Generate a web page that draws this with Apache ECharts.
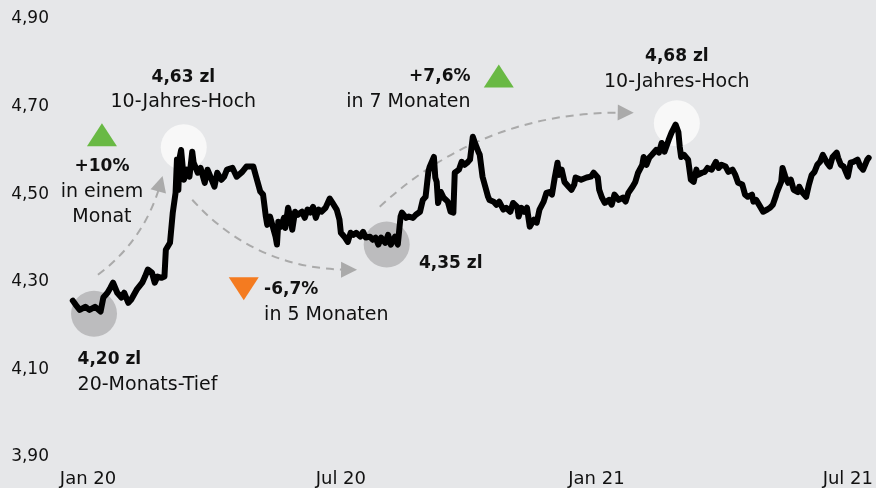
<!DOCTYPE html>
<html><head><meta charset="utf-8">
<script src="https://cdn.jsdelivr.net/npm/echarts@6/dist/echarts.min.js"></script>
<style>html,body{margin:0;padding:0;background:#e6e7e9}#chart{width:876px;height:488px}</style>
</head><body><div id="chart"></div>
<script>
// Day offsets relative to 2020-01-01 and EUR/PLN rate (zl)
const dayOffsets = [
 -11,-9,-6,-2,1,5,9,11,14,16,
 18,21,24,26,29,31,35,39,41,43,
 46,48,50,53,55,56,59,61,63,64,
 65,66,67,69,71,73,75,76,79,81,
 84,86,89,91,93,96,98,100,104,107,
 111,114,119,121,124,126,128,129,131,133,
 135,136,137,139,141,142,144,146,147,149,
 151,154,156,158,160,162,164,166,168,171,
 172,174,176,179,181,182,185,187,189,191,
 193,196,198,200,203,205,207,209,211,214,
 216,218,221,223,225,226,229,231,234,236,
 239,241,243,245,246,249,250,251,252,254,
 256,259,261,263,264,267,269,271,273,275,
 277,279,281,282,284,286,288,289,292,294,
 296,299,301,304,306,309,310,312,314,316,
 318,321,323,325,328,330,332,334,336,338,
 339,341,343,346,348,350,351,355,359,362,
 364,367,368,370,372,375,377,379,382,385,
 387,389,392,394,396,399,400,402,404,406,
 409,411,413,415,418,420,423,425,426,427,
 429,432,434,436,438,439,442,444,446,449,
 452,454,456,459,461,464,466,468,471,473,
 475,478,479,481,484,486,489,491,493,495,
 496,499,500,502,504,506,508,511,512,514,
 517,519,521,523,525,527,529,532,534,536,
 539,540,542,544,547,549,551,554,556,558,
 561,562
];
const rates = [
 4.257,4.248,4.236,4.243,4.236,4.243,4.232,4.264,4.275,4.286,
 4.298,4.275,4.264,4.275,4.252,4.259,4.282,4.298,4.312,4.328,
 4.321,4.298,4.312,4.309,4.312,4.373,4.389,4.458,4.503,4.579,
 4.510,4.585,4.601,4.533,4.556,4.540,4.597,4.572,4.549,4.560,
 4.526,4.556,4.533,4.517,4.549,4.533,4.540,4.556,4.560,4.540,
 4.551,4.563,4.563,4.540,4.506,4.499,4.449,4.430,4.449,4.426,
 4.403,4.385,4.437,4.426,4.446,4.423,4.469,4.442,4.419,4.460,
 4.453,4.460,4.446,4.465,4.458,4.471,4.446,4.465,4.460,4.469,
 4.465,4.490,4.480,4.465,4.442,4.412,4.401,4.391,4.412,4.407,
 4.412,4.403,4.414,4.401,4.403,4.396,4.401,4.385,4.401,4.389,
 4.407,4.385,4.403,4.385,4.449,4.458,4.446,4.449,4.446,4.453,
 4.460,4.487,4.494,4.551,4.563,4.585,4.538,4.528,4.480,4.505,
 4.492,4.483,4.460,4.458,4.549,4.556,4.574,4.567,4.572,4.579,
 4.631,4.613,4.597,4.590,4.540,4.517,4.494,4.487,4.483,4.476,
 4.483,4.465,4.469,4.460,4.480,4.471,4.449,4.469,4.460,4.469,
 4.426,4.442,4.435,4.465,4.483,4.503,4.505,4.499,4.538,4.572,
 4.544,4.556,4.528,4.517,4.510,4.522,4.538,4.533,4.538,4.540,
 4.549,4.538,4.510,4.492,4.480,4.487,4.476,4.499,4.487,4.492,
 4.483,4.503,4.517,4.528,4.549,4.567,4.585,4.567,4.583,4.590,
 4.601,4.595,4.617,4.597,4.624,4.640,4.659,4.642,4.608,4.585,
 4.590,4.579,4.533,4.528,4.556,4.544,4.549,4.551,4.560,4.556,
 4.574,4.560,4.567,4.563,4.551,4.556,4.544,4.526,4.522,4.499,
 4.494,4.499,4.483,4.487,4.471,4.460,4.465,4.469,4.476,4.494,
 4.505,4.528,4.560,4.540,4.526,4.533,4.510,4.505,4.517,4.505,
 4.494,4.522,4.544,4.551,4.567,4.574,4.590,4.572,4.563,4.585,
 4.595,4.583,4.567,4.563,4.540,4.572,4.574,4.579,4.563,4.556,
 4.579,4.583
];
const xTickDays = [0, 182, 366, 547];
const xTickLabels = ['Jan 20', 'Jul 20', 'Jan 21', 'Jul 21'];
const yMin = 3.9, yMax = 4.9, yStep = 0.2;

// Highlight circles: [day, rate, kind]
const circles = [[4.3, 4.227, 'low'], [68.9, 4.607, 'high'], [215, 4.385, 'low'], [423.9, 4.662, 'high']];
// Trend triangles: [day, rate, direction]
const triangles = [[10, 4.636, 'up'], [295.7, 4.770, 'up'], [112.1, 4.284, 'down']];
// Dashed arrows: start, end (data coords), curveness
const arrows = [
  [[7.1, 4.316], [52.1, 4.524], -0.17],
  [[75, 4.4873], [187.9, 4.3275], -0.22],
  [[210, 4.4713], [387.1, 4.686], 0.2]
];
// Annotation texts
const notes = [
  {at: [68.6, 4.738], pos: 'inside', bold: '4,63 zl', text: '10-Jahres-Hoch'},
  {at: [10, 4.5055], pos: 'inside', bold: '+10%', text: 'in einem\nMonat'},
  {at: [-7.9, 4.0935], pos: 'right', bold: '4,20 zl', text: '20-Monats-Tief'},
  {at: [126.4, 4.253], pos: 'right', bold: '-6,7%', text: 'in 5 Monaten'},
  {at: [237.9, 4.342], pos: 'right', bold: '4,35 zl', text: ''},
  {at: [275.7, 4.740], pos: 'left', bold: '+7,6%', text: 'in 7 Monaten'},
  {at: [423.9, 4.785], pos: 'inside', bold: '4,68 zl', text: '10-Jahres-Hoch'}
];

const FONT = 'DejaVu Sans';
const TXT = '#111111';
const chart = echarts.init(document.getElementById('chart'), null, {renderer: 'canvas'});
const lineData = dayOffsets.map((d, i) => [d, rates[i]]);

chart.setOption({
  backgroundColor: '#e6e7e9',
  animation: false,
  grid: {left: 70, right: 0, top: 19, bottom: 31, containLabel: false},
  xAxis: {
    type: 'value', min: -13, max: 563,
    axisLine: {show: false}, axisTick: {show: false}, splitLine: {show: false},
    axisLabel: {
      customValues: xTickDays, margin: 13, color: TXT, fontFamily: FONT, fontSize: 18,
      formatter: v => { const i = xTickDays.indexOf(v); return i >= 0 ? xTickLabels[i] : ''; }
    }
  },
  yAxis: {
    type: 'value', min: yMin, max: yMax, interval: yStep,
    axisLine: {show: false}, axisTick: {show: false}, splitLine: {show: false},
    axisLabel: {margin: 21, color: TXT, fontFamily: FONT, fontSize: 17,
      formatter: v => v.toFixed(2).replace('.', ',')}
  },
  series: [
    {
      type: 'scatter', z: 1, symbol: 'circle', symbolSize: 46, silent: true,
      data: circles.map(c => ({value: [c[0], c[1]], itemStyle: {color: c[2] === 'low' ? '#bcbcbe' : '#f8f8f8', opacity: 1}}))
    },
    {
      type: 'lines', coordinateSystem: 'cartesian2d', z: 2, silent: true,
      symbol: ['none', 'triangle'], symbolSize: [11, 16],
      lineStyle: {color: '#aaaaaa', width: 2, type: [8, 6], opacity: 1},
      data: arrows.map(a => ({coords: [a[0], a[1]], lineStyle: {curveness: a[2]}}))
    },
    {
      type: 'scatter', z: 3, silent: true, symbol: 'triangle', symbolSize: [30, 23],
      data: triangles.map(t => ({value: [t[0], t[1]], symbolRotate: t[2] === 'up' ? 0 : 180,
        itemStyle: {color: t[2] === 'up' ? '#69b944' : '#f47b20', opacity: 1}}))
    },
    {
      type: 'line', z: 5, data: lineData, showSymbol: false, symbol: 'none', silent: true,
      lineStyle: {color: '#000', width: 6, cap: 'round', join: 'round'}
    },
    {
      type: 'scatter', z: 6, silent: true, symbolSize: 1, itemStyle: {color: 'rgba(0,0,0,0)'},
      data: notes.map(n => ({
        value: n.at,
        label: {
          show: true, position: n.pos, distance: 0, color: TXT, opacity: 1,
          formatter: n.text ? '{b|' + n.bold + '}\n' + n.text.split('\n').map(t => '{n|' + t + '}').join('\n') : '{b|' + n.bold + '}',
          rich: {
            b: {fontFamily: FONT, fontWeight: 'bold', fontSize: 17, lineHeight: 25, color: TXT},
            n: {fontFamily: FONT, fontSize: 19, lineHeight: 25, color: TXT}
          }
        }
      }))
    }
  ]
});
</script></body></html>
